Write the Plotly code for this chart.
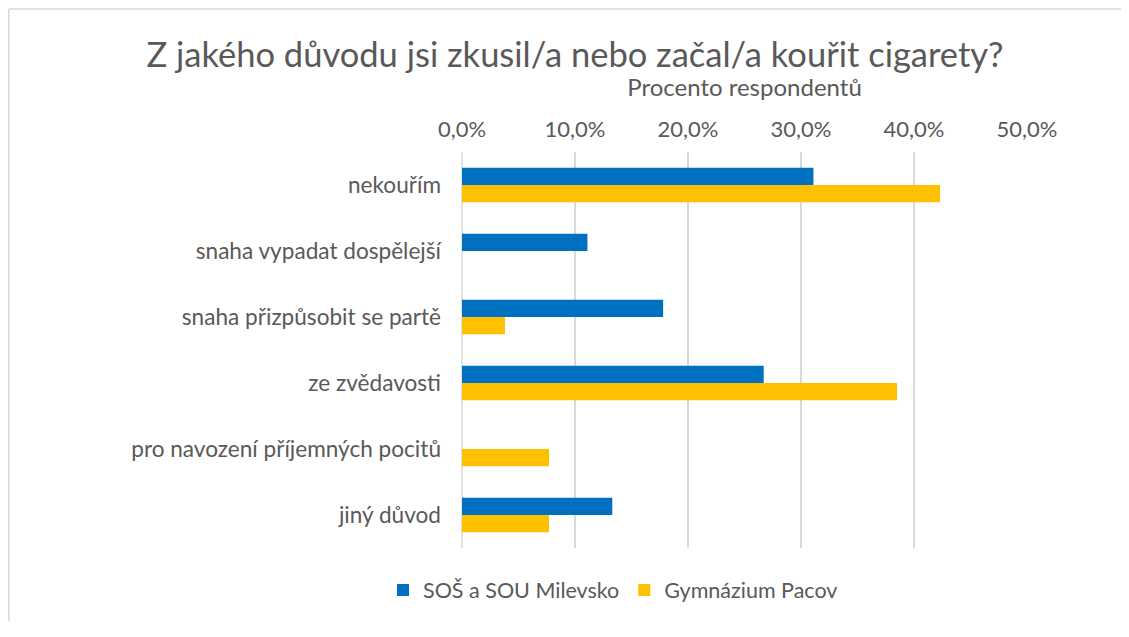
import plotly.graph_objects as go

categories = ["nekouřím", "snaha vypadat dospělejší", "snaha přizpůsobit se partě",
              "ze zvědavosti", "pro navození příjemných pocitů", "jiný důvod"]
milevsko = [31.1, 11.1, 17.8, 26.7, 0.0, 13.3]
pacov = [42.3, 0.0, 3.8, 38.5, 7.7, 7.7]
x_ticks = [0, 10, 20, 30, 40, 50]
x_tick_labels = ["0,0%", "10,0%", "20,0%", "30,0%", "40,0%", "50,0%"]

TXT = "#595959"
GRID = "#D9D9D9"
FONT = "Lato, 'Open Sans', sans-serif"

fig = go.Figure()
fig.add_trace(go.Bar(y=categories, x=milevsko, orientation="h", name="SOŠ a SOU Milevsko",
                     marker=dict(color="#0070C0", line=dict(width=0))))
fig.add_trace(go.Bar(y=categories, x=pacov, orientation="h", name="Gymnázium Pacov",
                     marker=dict(color="#FFC000", line=dict(width=0))))

# page body has an 8px margin: work in screen coords and offset; stay clear of scrollbars
OFF = 8
W, H = 1129 - 2 * OFF, 613
L = 462 - OFF
T = 152 - OFF
R = W - (1027 - OFF)
B = H - (548 - OFF)
pw = W - L - R
ph = H - T - B

def px2x(p):
    return (p - OFF - L) / pw

def py2y(p):
    return (H - B - (p - OFF)) / ph

fig.update_layout(
    width=W, height=H,
    margin=dict(l=L, r=R, t=T, b=B),
    paper_bgcolor="white", plot_bgcolor="white",
    barmode="group", bargap=0.48, bargroupgap=0,
    font=dict(family=FONT, color=TXT, size=22),
    title=dict(text="Z jakého důvodu jsi zkusil/a nebo začal/a kouřit cigarety?",
               x=(575 - OFF) / W, xanchor="center", xref="container",
               y=1 - (55 - OFF) / H, yanchor="middle", yref="container",
               font=dict(size=34.5, color=TXT, family=FONT)),
    xaxis=dict(side="top", range=[0, 50], tickvals=x_ticks, ticktext=x_tick_labels,
               showgrid=True, gridcolor=GRID, gridwidth=1.5,
               zeroline=False, showline=False, ticks="", ticklabelstandoff=10,
               tickfont=dict(size=22, color=TXT),
               title=dict(text="Procento respondentů", font=dict(size=24, color=TXT), standoff=11)),
    yaxis=dict(autorange="reversed", showgrid=False, zeroline=False, showline=False,
               ticks="", ticklabelstandoff=20, tickfont=dict(size=22.6, color=TXT)),
    legend=dict(orientation="h", xref="container", yref="container",
                x=(613 - OFF) / W, xanchor="center", y=1 - (590 - OFF) / H, yanchor="middle",
                font=dict(size=21.5, color=TXT), itemwidth=30, traceorder="normal"),
    showlegend=True,
)

fig.add_shape(type="line", xref="paper", yref="paper",
              x0=0, x1=0, y0=0, y1=1, line=dict(color=GRID, width=1.5), layer="below")

# chart-area frame: only its left and top edges fall inside the picture
fig.add_shape(type="line", xref="paper", yref="paper",
              x0=px2x(8.8), x1=px2x(8.8), y0=py2y(9), y1=py2y(640),
              line=dict(color=GRID, width=1.5), layer="below")
fig.add_shape(type="line", xref="paper", yref="paper",
              x0=px2x(8.8), x1=px2x(1140), y0=py2y(9), y1=py2y(9),
              line=dict(color=GRID, width=1.5), layer="below")

fig.write_html("out.html")
